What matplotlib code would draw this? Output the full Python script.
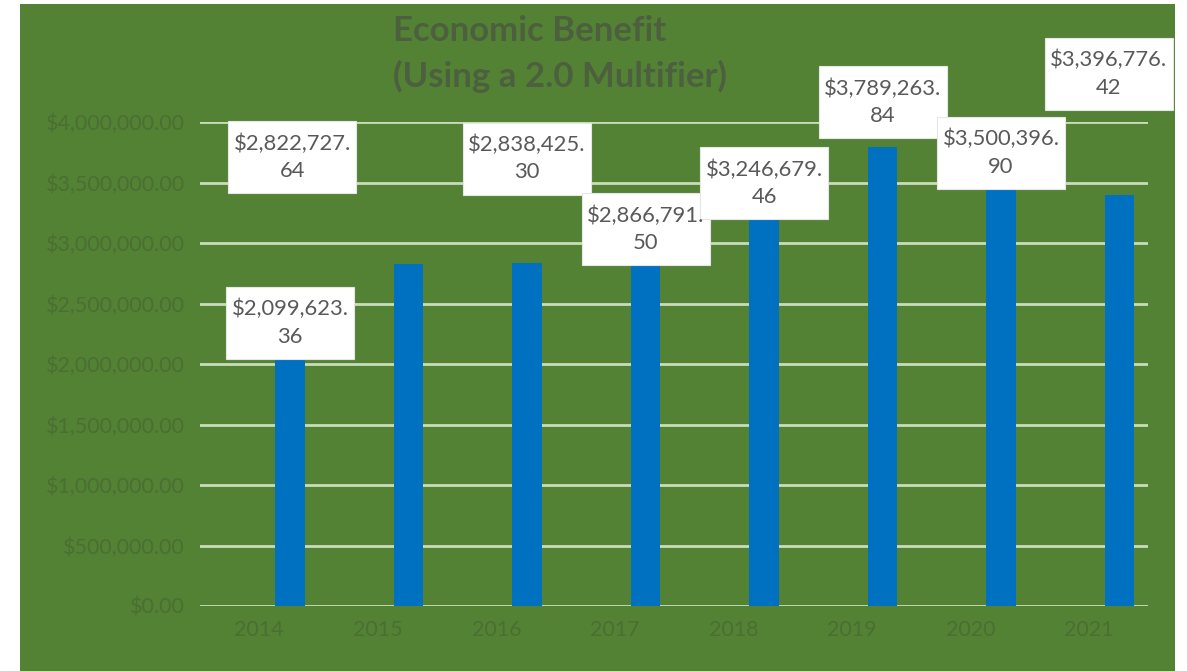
import matplotlib
matplotlib.use("Agg")
import matplotlib.pyplot as plt
from matplotlib.patches import Rectangle
from matplotlib.ticker import FuncFormatter

years = ["2014", "2015", "2016", "2017", "2018", "2019", "2020", "2021"]
benefit = [2099623.36, 2822727.64, 2838425.30, 2866791.50,
           3246679.46, 3789263.84, 3500396.90, 3396776.42]
label_text = ["$2,099,623.\n36", "$2,822,727.\n64", "$2,838,425.\n30", "$2,866,791.\n50",
              "$3,246,679.\n46", "$3,789,263.\n84", "$3,500,396.\n90", "$3,396,776.\n42"]
# where Excel's dragged data labels sit (category offset, value-axis centre)
label_dx = [0.0, -0.98, 0.0, 0.0, 0.0, 0.0, 0.0, -0.09]
label_y = [2.339e6, 3.707e6, 3.698e6, 3.112e6, 3.492e6, 4.165e6, 3.744e6, 4.397e6]

GREEN = "#548235"
BLUE = "#0070C0"
GRID = "#c9dcba"
AXIS_TEXT = "#4b6e33"
TITLE = "#4c5f3e"
LABEL = "#595959"

plt.rcParams["font.family"] = ["Lato", "DejaVu Sans"]

fig = plt.figure(figsize=(11.87, 6.71), dpi=100)
fig.patch.set_facecolor("white")
fig.add_artist(Rectangle((20 / 1187, 0), 1155 / 1187, 667 / 671,
                         transform=fig.transFigure, facecolor=GREEN,
                         edgecolor="none", zorder=0))

ax = fig.add_axes([200 / 1187, 65 / 671, 948 / 1187, 484 / 671])
ax.set_facecolor("none")

x = list(range(len(years)))
bar_x = [i + 0.26 for i in x]
ax.bar(bar_x, benefit, width=0.25, color=BLUE, zorder=3)

ax.set_ylim(0, 4e6)
ax.set_xlim(-0.5, len(years) - 0.5)
ax.set_yticks([i * 500000 for i in range(9)])
ax.yaxis.set_major_formatter(FuncFormatter(lambda v, p: f"${v:,.2f}"))
ax.set_xticks(x)
ax.set_xticklabels(years)
ax.grid(axis="y", color=GRID, linewidth=2, zorder=1)
ax.set_axisbelow(True)
for s in ax.spines.values():
    s.set_visible(False)
ax.tick_params(length=0, colors=AXIS_TEXT, labelsize=15.5)
ax.tick_params(axis="y", pad=11)
ax.tick_params(axis="x", pad=10)

# data label boxes (about 128 x 72 px)
box_w = 128 / 118.5
box_h = 72 / 121.0 * 1e6
for i, txt in enumerate(label_text):
    cx = bar_x[i] + label_dx[i]
    cy = label_y[i]
    ax.add_patch(Rectangle((cx - box_w / 2, cy - box_h / 2), box_w, box_h,
                           facecolor="white", edgecolor="#e6e6e6", linewidth=0.8,
                           zorder=5, clip_on=False))
    ax.text(cx, cy, txt, ha="center", va="center", fontsize=15.8, color=LABEL,
            linespacing=1.45, zorder=6, clip_on=False)

fig.text(393 / 1187, 1 - 54 / 671, "Economic Benefit\n(Using a 2.0 Multifier)",
         ha="left", va="center", multialignment="left", fontsize=25,
         fontweight="bold", color=TITLE, linespacing=1.5)

fig.savefig("out.png", dpi=100, facecolor=fig.get_facecolor())
